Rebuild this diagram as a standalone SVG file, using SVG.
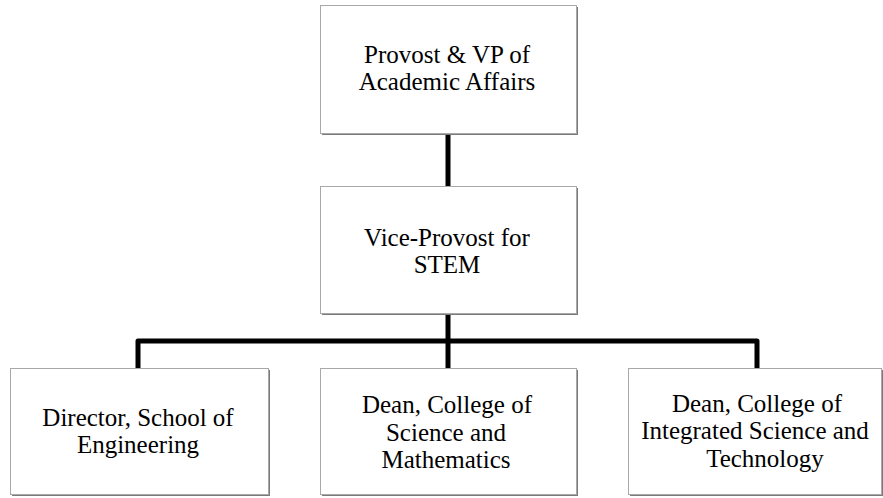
<svg xmlns="http://www.w3.org/2000/svg" width="883" height="498" viewBox="0 0 883 498">
<style>
.shadow{fill:#7a7a7a}
.box{fill:#ffffff;stroke:#a8a8a8;stroke-width:1}
.conn{fill:none;stroke:#000;stroke-width:5;stroke-linejoin:round}
</style>
<rect width="883" height="498" fill="#ffffff"/>
<g id="connectors">
<path class="conn" d="M448,133 V186"/>
<path class="conn" d="M448,313 V368"/>
<path class="conn" d="M138,368 V341 H757 V368"/>
</g>
<g id="provost">
<rect class="shadow" x="322" y="7" width="256" height="128"/>
<rect class="box" x="320.5" y="5.5" width="256" height="128"/>
<text x="447" y="63" font-family="Liberation Serif" font-size="25" text-anchor="middle">Provost &amp; VP of</text>
<text x="447" y="90" font-family="Liberation Serif" font-size="25" text-anchor="middle">Academic Affairs</text>
</g>
<g id="viceprovost">
<rect class="shadow" x="322" y="188" width="256" height="127"/>
<rect class="box" x="320.5" y="186.5" width="256" height="127"/>
<text x="447" y="246" font-family="Liberation Serif" font-size="25" text-anchor="middle">Vice-Provost for</text>
<text x="447" y="273" font-family="Liberation Serif" font-size="25" text-anchor="middle">STEM</text>
</g>
<g id="director">
<rect class="shadow" x="12" y="370" width="258" height="126"/>
<rect class="box" x="10.5" y="368.5" width="258" height="126"/>
<text x="138" y="426" font-family="Liberation Serif" font-size="25" text-anchor="middle">Director, School of</text>
<text x="138" y="453" font-family="Liberation Serif" font-size="25" text-anchor="middle">Engineering</text>
</g>
<g id="dean-csm">
<rect class="shadow" x="322" y="370" width="256" height="126"/>
<rect class="box" x="320.5" y="368.5" width="256" height="126"/>
<text x="447" y="413" font-family="Liberation Serif" font-size="25" text-anchor="middle">Dean, College of</text>
<text x="446" y="441" font-family="Liberation Serif" font-size="25" text-anchor="middle">Science and</text>
<text x="446" y="468" font-family="Liberation Serif" font-size="25" text-anchor="middle">Mathematics</text>
</g>
<g id="dean-cist">
<rect class="shadow" x="630" y="370" width="254" height="126"/>
<rect class="box" x="628.5" y="368.5" width="253" height="126"/>
<text x="757" y="412" font-family="Liberation Serif" font-size="25" text-anchor="middle">Dean, College of</text>
<text x="755" y="439" font-family="Liberation Serif" font-size="25" text-anchor="middle">Integrated Science and</text>
<text x="765" y="467" font-family="Liberation Serif" font-size="25" text-anchor="middle">Technology</text>
</g>
</svg>
